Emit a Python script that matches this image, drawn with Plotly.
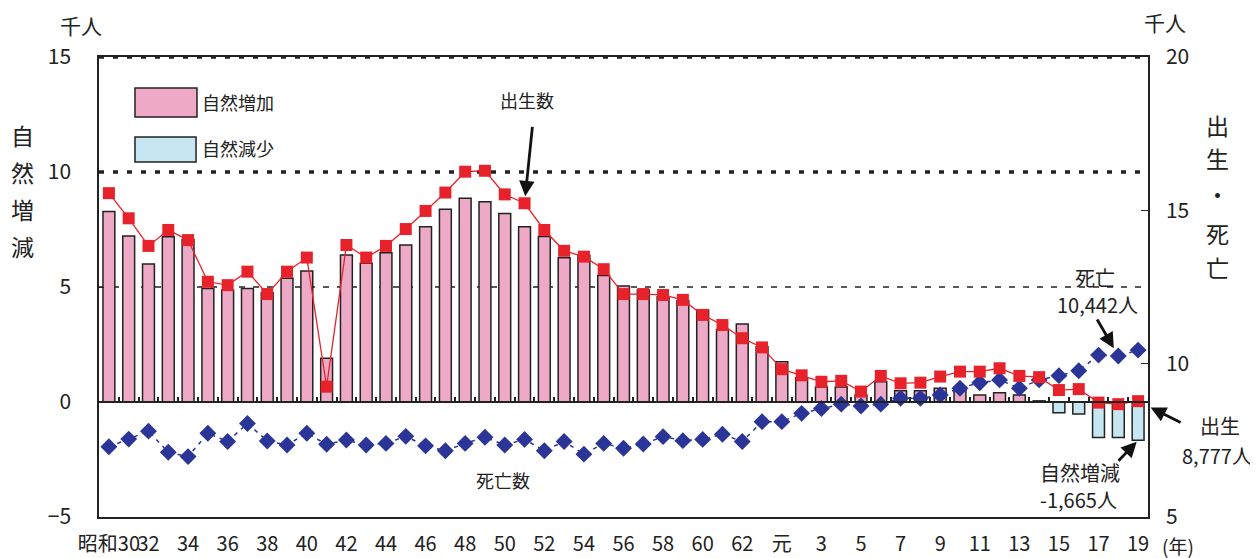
import plotly.graph_objects as go

# ---------------- data ----------------
years = ["30", "31", "32", "33", "34", "35", "36", "37", "38", "39",
         "40", "41", "42", "43", "44", "45", "46", "47", "48", "49",
         "50", "51", "52", "53", "54", "55", "56", "57", "58", "59",
         "60", "61", "62", "63", "元", "2", "3", "4", "5", "6",
         "7", "8", "9", "10", "11", "12", "13", "14", "15", "16",
         "17", "18", "19"]

tick_cats = ["30", "32", "34", "36", "38", "40", "42", "44", "46", "48",
             "50", "52", "54", "56", "58", "60", "62", "元", "3", "5",
             "7", "9", "11", "13", "15", "17", "19"]
tick_text = ["昭和30", "32", "34", "36", "38", "40", "42", "44", "46", "48",
             "50", "52", "54", "56", "58", "60", "62", "元", "3", "5",
             "7", "9", "11", "13", "15", "17", "19"]

# natural increase (thousand persons, left axis)
natural = [8.28, 7.22, 6.00, 7.19, 7.07, 4.94, 4.87, 4.94, 4.75, 5.38,
           5.70, 1.90, 6.39, 6.03, 6.49, 6.83, 7.62, 8.38, 8.86, 8.71,
           8.20, 7.62, 7.20, 6.27, 6.38, 5.50, 5.04, 4.87, 4.58, 4.40,
           4.00, 3.15, 3.39, 2.40, 1.75, 1.05, 0.65, 0.65, 0.30, 0.88,
           0.49, 0.49, 0.60, 0.52, 0.30, 0.40, 0.30, 0.05, -0.47, -0.52,
           -1.54, -1.54, -1.665]

# births (thousand persons, right axis)
births = [15.56, 14.74, 13.84, 14.36, 14.03, 12.67, 12.56, 13.00, 12.27, 13.00,
          13.46, 9.25, 13.87, 13.46, 13.84, 14.39, 14.98, 15.58, 16.26, 16.29,
          15.52, 15.23, 14.36, 13.68, 13.49, 13.08, 12.27, 12.27, 12.24, 12.08,
          11.59, 11.26, 10.83, 10.53, 9.82, 9.62, 9.41, 9.44, 9.09, 9.60,
          9.36, 9.38, 9.58, 9.74, 9.74, 9.85, 9.60, 9.56, 9.14, 9.17,
          8.73, 8.68, 8.777]

# deaths (thousand persons, right axis)
deaths = [7.29, 7.54, 7.80, 7.11, 6.97, 7.73, 7.46, 8.05, 7.48, 7.35,
          7.73, 7.37, 7.51, 7.35, 7.40, 7.63, 7.32, 7.16, 7.40, 7.60,
          7.35, 7.53, 7.16, 7.46, 7.05, 7.40, 7.24, 7.38, 7.62, 7.49,
          7.53, 7.70, 7.46, 8.11, 8.11, 8.38, 8.54, 8.68, 8.62, 8.68,
          8.87, 8.87, 8.98, 9.20, 9.38, 9.47, 9.20, 9.47, 9.61, 9.77,
          10.28, 10.25, 10.442]

PINK = "#EEA9C7"
LIGHTBLUE = "#C6E6F2"
RED = "#E8222B"
BLUE = "#2A3597"
INK = "#222222"
FONT = "Noto Sans CJK JP"

bar_colors = [PINK if v >= 0 else LIGHTBLUE for v in natural]

fig = go.Figure()

fig.add_trace(go.Bar(
    x=years, y=natural, xaxis="x", yaxis="y",
    marker=dict(color=bar_colors, line=dict(color=INK, width=1.5)),
    width=0.6, showlegend=False, name="自然増減"))

fig.add_trace(go.Scatter(
    x=years, y=deaths, xaxis="x", yaxis="y2", mode="lines+markers",
    line=dict(color=BLUE, width=1.5, dash="4px,5px"),
    marker=dict(symbol="diamond", size=13, color=BLUE),
    showlegend=False, name="死亡数"))

fig.add_trace(go.Scatter(
    x=years, y=births, xaxis="x", yaxis="y2", mode="lines+markers",
    line=dict(color=RED, width=1.3),
    marker=dict(symbol="square", size=12, color=RED),
    showlegend=False, name="出生数"))

# helper trace so the zero-line tick axis is drawn
fig.add_trace(go.Scatter(x=[None], y=[None], xaxis="x2", yaxis="y",
                         showlegend=False, hoverinfo="skip"))

tfont = dict(family=FONT, size=20, color=INK)

# the page body adds an 8px offset; the figure is sized to fill the window
fig.update_layout(
    width=1250, height=550,
    margin=dict(l=91, r=110, t=49, b=41, autoexpand=False),
    paper_bgcolor="white", plot_bgcolor="white",
    font=dict(family=FONT, color=INK),
    bargap=0.4,
    xaxis=dict(type="category", categoryorder="array", categoryarray=years,
               range=[-0.5, len(years) - 0.5], automargin=False,
               tickvals=tick_cats, ticktext=tick_text, ticks="", tickangle=0,
               tickfont=tfont, ticklabelstandoff=8,
               showline=True, linecolor=INK, linewidth=1.5, mirror=True,
               showgrid=False, zeroline=False),
    xaxis2=dict(type="linear", overlaying="x", anchor="free", position=0.25,
                range=[-0.5, len(years) - 0.5], tick0=-0.5, dtick=1,
                automargin=False,
                ticks="inside", ticklen=4, tickwidth=1.5, tickcolor=INK,
                showticklabels=False, showline=True, linecolor=INK, linewidth=2,
                showgrid=False, zeroline=False),
    yaxis=dict(range=[-5, 15], tickvals=[-5, 0, 5, 10, 15], automargin=False,
               ticktext=["−5", "0", "5", "10", "15"],
               tickfont=dict(family=FONT, size=21, color=INK),
               ticks="inside", ticklen=5, tickcolor=INK, ticklabelstandoff=22,
               showline=True, linecolor=INK, linewidth=1.5,
               showgrid=False, zeroline=False),
    yaxis2=dict(range=[5, 20], tickvals=[5, 10, 15, 20], overlaying="y",
                side="right", tickfont=dict(family=FONT, size=21, color=INK),
                automargin=False,
                ticks="inside", ticklen=7, tickcolor=INK, ticklabelstandoff=12,
                showline=True, linecolor=INK, linewidth=1.5,
                showgrid=False, zeroline=False),
)

# reference lines (grid)
fig.add_shape(type="line", xref="paper", yref="y", x0=0, x1=1, y0=15, y1=15,
              line=dict(color=INK, width=3.5, dash="5px,9px"), layer="below")
fig.add_shape(type="line", xref="paper", yref="y", x0=0, x1=1, y0=10, y1=10,
              line=dict(color=INK, width=3.5, dash="5px,9px"), layer="below")
fig.add_shape(type="line", xref="paper", yref="y", x0=0, x1=1, y0=5, y1=5,
              line=dict(color=INK, width=1.5, dash="6px,8px"), layer="below")

# custom legend boxes
fig.add_shape(type="rect", xref="paper", yref="paper",
              x0=0.0343, x1=0.0934, y0=0.8696, y1=0.9326,
              fillcolor=PINK, line=dict(color=INK, width=1.5))
fig.add_shape(type="rect", xref="paper", yref="paper",
              x0=0.0343, x1=0.0925, y0=0.7717, y1=0.8261,
              fillcolor=LIGHTBLUE, line=dict(color=INK, width=1.5))


def label(text, x, y, size=18, xanchor="center", yanchor="middle"):
    fig.add_annotation(text=text, x=x, y=y, xref="paper", yref="paper",
                       showarrow=False, xanchor=xanchor, yanchor=yanchor,
                       font=dict(family=FONT, size=size, color=INK))


def arrow(cat, y, yref, ax, ay, standoff):
    fig.add_annotation(text="", x=years.index(cat), y=y, xref="x", yref=yref,
                       ax=ax, ay=ay, axref="pixel", ayref="pixel",
                       showarrow=True, arrowhead=2, arrowsize=1.1,
                       arrowwidth=2.8, arrowcolor="#111111", standoff=standoff)


label("自然増加", 0.0963, 0.902, size=18, xanchor="left")
label("自然減少", 0.0963, 0.802, size=18, xanchor="left")
label("千人", -0.0172, 1.0696, size=21)
label("千人", 1.0162, 1.076, size=21)

# vertical axis titles, one character per text
left_title = ["自", "然", "増", "減"]
left_y = [0.8300, 0.7500, 0.6700, 0.5900]
for ch, yy in zip(left_title, left_y):
    label(ch, -0.0725, yy, size=23)

right_title = ["出", "生", "・", "死", "亡"]
right_y = [0.8530, 0.7800, 0.7020, 0.6170, 0.5430]
for ch, yy in zip(right_title, right_y):
    label(ch, 1.0667, yy, size=23)

label("出生数", 0.408, 0.9065, size=18)
label("死亡数", 0.3851, 0.0804, size=18)
label("死亡", 0.9495, 0.5217, size=20)
label("10,442人", 0.9514, 0.463, size=20)
label("出生", 1.0686, 0.2000, size=20)
label("8,777人", 1.0658, 0.1330, size=20)
label("自然増減", 0.9352, 0.0957, size=20)
label("-1,665人", 0.9342, 0.037, size=20)
label("(年)", 1.0286, -0.0620, size=19)

arrow("51", births[years.index("51")], "y2", 8, -78, 7)
arrow("18", deaths[years.index("18")], "y2", -22, -38, 9)
arrow("19", births[years.index("19")], "y2", 44, 22, 14)
arrow("19", natural[years.index("19")], "y", -21, 22, 2)

fig.write_html("out.html")
